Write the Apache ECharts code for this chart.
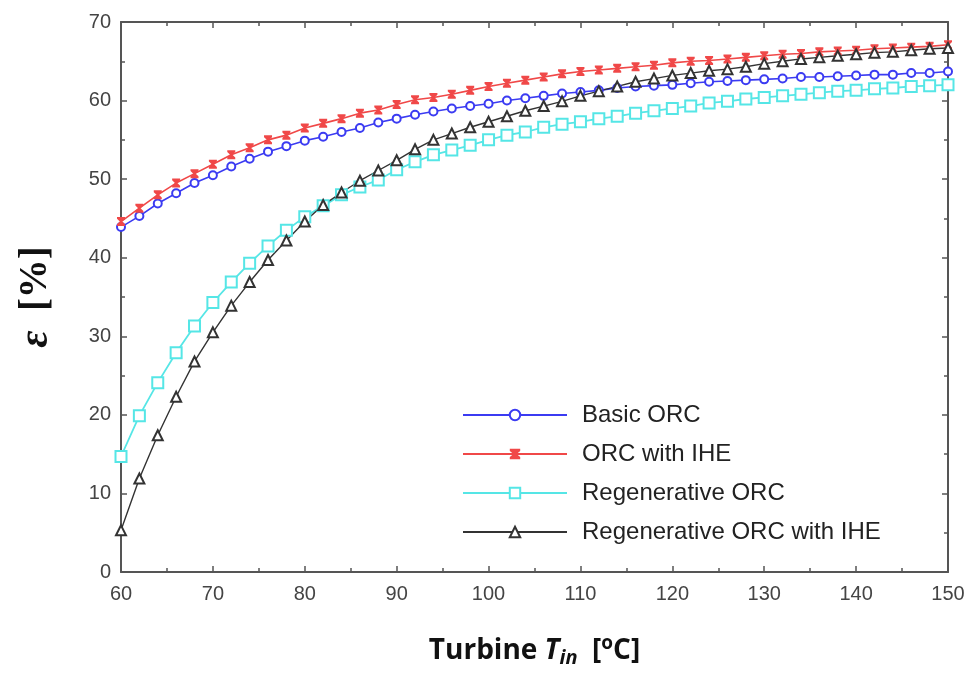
<!DOCTYPE html>
<html>
<head>
<meta charset="utf-8">
<script src="https://cdn.jsdelivr.net/npm/echarts@6/dist/echarts.min.js"></script>
<style>html,body{margin:0;padding:0;background:#fff;}#c{width:973px;height:675px;}</style>
</head>
<body>
<div id="c"></div>
<script>
const temps = [60,62,64,66,68,70,72,74,76,78,80,82,84,86,88,90,92,94,96,98,100,102,104,106,108,110,112,114,116,118,120,122,124,126,128,130,132,134,136,138,140,142,144,146,148,150];
const basicORC = [43.9,45.3,46.9,48.2,49.5,50.5,51.6,52.6,53.5,54.2,54.9,55.4,56.0,56.5,57.2,57.7,58.2,58.6,59.0,59.3,59.6,60.0,60.3,60.6,60.9,61.1,61.3,61.6,61.8,61.9,62.0,62.2,62.4,62.5,62.6,62.7,62.8,63.0,63.0,63.1,63.2,63.3,63.3,63.5,63.5,63.7];
const orcIHE = [44.6,46.3,48.0,49.5,50.7,51.9,53.1,54.0,55.0,55.6,56.5,57.1,57.7,58.4,58.8,59.5,60.1,60.4,60.8,61.3,61.8,62.2,62.6,63.0,63.4,63.7,63.9,64.1,64.3,64.5,64.8,65.0,65.1,65.3,65.5,65.7,65.9,66.0,66.2,66.3,66.4,66.6,66.7,66.8,66.9,67.1];
const regenORC = [14.7,19.9,24.1,27.9,31.3,34.3,36.9,39.3,41.5,43.5,45.2,46.6,48.0,49.0,49.9,51.2,52.2,53.1,53.7,54.3,55.0,55.6,56.0,56.6,57.0,57.3,57.7,58.0,58.4,58.7,59.0,59.3,59.7,59.9,60.2,60.4,60.6,60.8,61.0,61.2,61.3,61.5,61.6,61.8,61.9,62.0];
const regenIHE = [5.3,11.9,17.4,22.3,26.8,30.5,33.9,36.9,39.7,42.2,44.6,46.7,48.3,49.8,51.1,52.4,53.8,55.0,55.8,56.6,57.3,58.0,58.7,59.3,59.9,60.6,61.2,61.8,62.4,62.8,63.2,63.5,63.8,64.0,64.3,64.7,65.0,65.3,65.5,65.7,65.9,66.1,66.2,66.4,66.6,66.7];
const seriesNames = ['Basic ORC','ORC with IHE','Regenerative ORC','Regenerative ORC with IHE'];

const pair = arr => temps.map((t,i)=>[t,arr[i]]);
const axisCol = '#555';
const labelStyle = {color:'#444', fontSize:20, fontFamily:'Liberation Sans, Arial, sans-serif'};

function mkX(pos, show){
  return {type:'value', position:pos, min:60, max:150, interval:10,
    axisLine:{show:true, onZero:false, lineStyle:{color:axisCol, width:2}},
    axisTick:{show:true, inside:true, length:6, lineStyle:{color:axisCol, width:1.5}},
    minorTick:{show:true, splitNumber:2, length:4, lineStyle:{color:axisCol, width:1.5}},
    axisLabel:{show:show, margin:12, ...labelStyle},
    splitLine:{show:false}};
}
function mkY(pos, show){
  return {type:'value', position:pos, min:0, max:70, interval:10,
    axisLine:{show:true, onZero:false, lineStyle:{color:axisCol, width:2}},
    axisTick:{show:true, inside:true, length:6, lineStyle:{color:axisCol, width:1.5}},
    minorTick:{show:true, splitNumber:2, length:4, lineStyle:{color:axisCol, width:1.5}},
    axisLabel:{show:show, margin:10, ...labelStyle},
    splitLine:{show:false}};
}

const xMain = mkX('bottom', true);
xMain.name = '{b|Turbine }{i|T}{sub|in}{b|  [}{sup|o}{b|C]}';
xMain.nameLocation = 'middle';
xMain.nameGap = 62;
xMain.nameTextStyle = {rich:{
  b:{fontSize:28, fontWeight:'bold', fontFamily:'Open Sans, sans-serif', color:'#111'},
  i:{fontSize:28, fontWeight:'bold', fontStyle:'italic', fontFamily:'Open Sans, sans-serif', color:'#111'},
  sub:{fontSize:20, fontWeight:'bold', fontStyle:'italic', fontFamily:'Open Sans, sans-serif', color:'#111', verticalAlign:'bottom', padding:[14,0,0,0]},
  sup:{fontSize:19, fontWeight:'bold', fontFamily:'Open Sans, sans-serif', color:'#111', verticalAlign:'top', padding:[0,0,12,0]}
}};
const yMain = mkY('left', true);
yMain.name = '{e|ε}{b|  [%]}';
yMain.nameLocation = 'middle';
yMain.nameRotate = 90;
yMain.nameGap = 64;
yMain.nameTextStyle = {rich:{
  e:{fontSize:42, fontWeight:'bold', fontStyle:'italic', fontFamily:'Liberation Serif, serif', color:'#111'},
  b:{fontSize:39, fontWeight:'bold', fontFamily:'Liberation Serif, serif', color:'#111'}
}};

const hourglass = 'path://M0,0 L10,0 L10,2 L6.5,5 L10,8 L10,10 L0,10 L0,8 L3.5,5 L0,2 Z';

const chart = echarts.init(document.getElementById('c'));
chart.setOption({
  animation:false,
  backgroundColor:'#fff',
  grid:{left:121, right:25, top:22, bottom:103, containLabel:false},
  xAxis:[xMain, mkX('top', false)],
  yAxis:[yMain, mkY('right', false)],
  legend:{
    orient:'vertical', left:457, top:398, itemWidth:104, itemHeight:13, itemGap:15,
    textStyle:{fontSize:24, color:'#222', fontFamily:'Liberation Sans, Arial, sans-serif', padding:[0,0,0,10]},
    data:seriesNames
  },
  series:[
    {name:seriesNames[0], type:'line', data:pair(basicORC), symbol:'emptyCircle', symbolSize:8,
     color:'#3b3bf2', lineStyle:{width:1.6}, itemStyle:{borderWidth:1.4}},
    {name:seriesNames[1], type:'line', data:pair(orcIHE), symbol:hourglass, symbolSize:[8,9],
     color:'#f04848', lineStyle:{width:1.6}},
    {name:seriesNames[2], type:'line', data:pair(regenORC), symbol:'emptyRect', symbolSize:11,
     color:'#55e6e6', lineStyle:{width:1.8}, itemStyle:{borderWidth:1.6}},
    {name:seriesNames[3], type:'line', data:pair(regenIHE), symbol:'emptyTriangle', symbolSize:10,
     color:'#333', lineStyle:{width:1.4}, itemStyle:{borderWidth:1.3}}
  ]
});
</script>
</body>
</html>
